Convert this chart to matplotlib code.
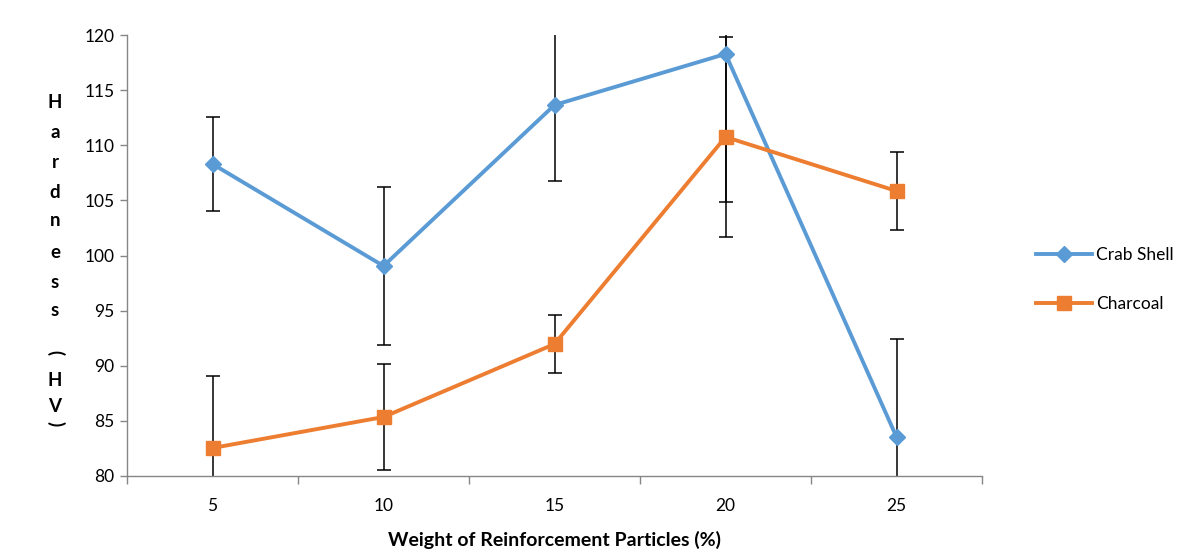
import matplotlib
matplotlib.use("Agg")
import matplotlib.pyplot as plt
import numpy as np

plt.rcParams['font.family'] = ['Lato', 'DejaVu Sans']

categories = ["5", "10", "15", "20", "25"]
crab_shell = [108.3, 99.05, 113.65, 118.28, 83.54]
crab_shell_err = [4.26, 7.15, 6.9, 13.4, 8.9]
charcoal = [82.54, 85.35, 91.97, 110.75, 105.85]
charcoal_err = [6.5, 4.8, 2.6, 9.05, 3.5]
y_ticks = [80, 85, 90, 95, 100, 105, 110, 115, 120]

blue = "#5b9bd5"
orange = "#ed7d31"
axis_gray = "#868686"

fig = plt.figure(figsize=(11.99, 5.54), dpi=100)
ax = fig.add_axes([127 / 1199, 1 - 476 / 554, (982 - 127) / 1199, (476 - 35) / 554])

x = np.arange(len(categories))

ax.errorbar(x, crab_shell, yerr=crab_shell_err, fmt='none', ecolor='black',
            elinewidth=1.1, capsize=5, capthick=1.1, zorder=2)
ax.errorbar(x, charcoal, yerr=charcoal_err, fmt='none', ecolor='black',
            elinewidth=1.1, capsize=5, capthick=1.1, zorder=2)
ax.plot(x, crab_shell, color=blue, lw=2.8, marker='D', markersize=8,
        label="Crab Shell", zorder=3)
ax.plot(x, charcoal, color=orange, lw=2.8, marker='s', markersize=9.5,
        label="Charcoal", zorder=3)

ax.set_xlim(-0.5, len(categories) - 0.5)
ax.set_ylim(80, 120)
ax.set_yticks(y_ticks)
ax.set_yticklabels([str(v) for v in y_ticks], fontsize=12.5)
ax.set_xticks(x)
ax.set_xticklabels(categories, fontsize=12.5)
ax.tick_params(axis='x', which='major', length=0, pad=16)
ax.set_xticks(np.arange(-0.5, len(categories), 1.0), minor=True)
ax.tick_params(axis='x', which='minor', length=6, color=axis_gray, width=1)
ax.tick_params(axis='y', length=5, color=axis_gray, width=1, pad=4)

for side in ('top', 'right'):
    ax.spines[side].set_visible(False)
for side in ('left', 'bottom'):
    ax.spines[side].set_color(axis_gray)
    ax.spines[side].set_linewidth(1)

ax.set_xlabel("Weight of Reinforcement Particles (%)", fontsize=14,
              fontweight='bold', labelpad=12)

# stacked vertical y-axis title
ylabel_chars = ["H", "a", "r", "d", "n", "e", "s", "s", "(", "H", "V", ")"]
ylabel_rows = [102, 133, 163, 192, 221, 253, 283, 311, 353, 380, 406, 424]
for ch, row in zip(ylabel_chars, ylabel_rows):
    rot = -90 if ch in "()" else 0
    fig.text(55 / 1199, 1 - row / 554, ch, fontsize=13.5, fontweight='bold',
             ha='center', va='center', rotation=rot)

leg = ax.legend(loc='center left', bbox_to_anchor=(1.045, 0.445), frameon=False,
                fontsize=12.5, handlelength=3.2, labelspacing=1.9,
                handletextpad=0.25)

fig.savefig("out.png", dpi=100, facecolor='white')
